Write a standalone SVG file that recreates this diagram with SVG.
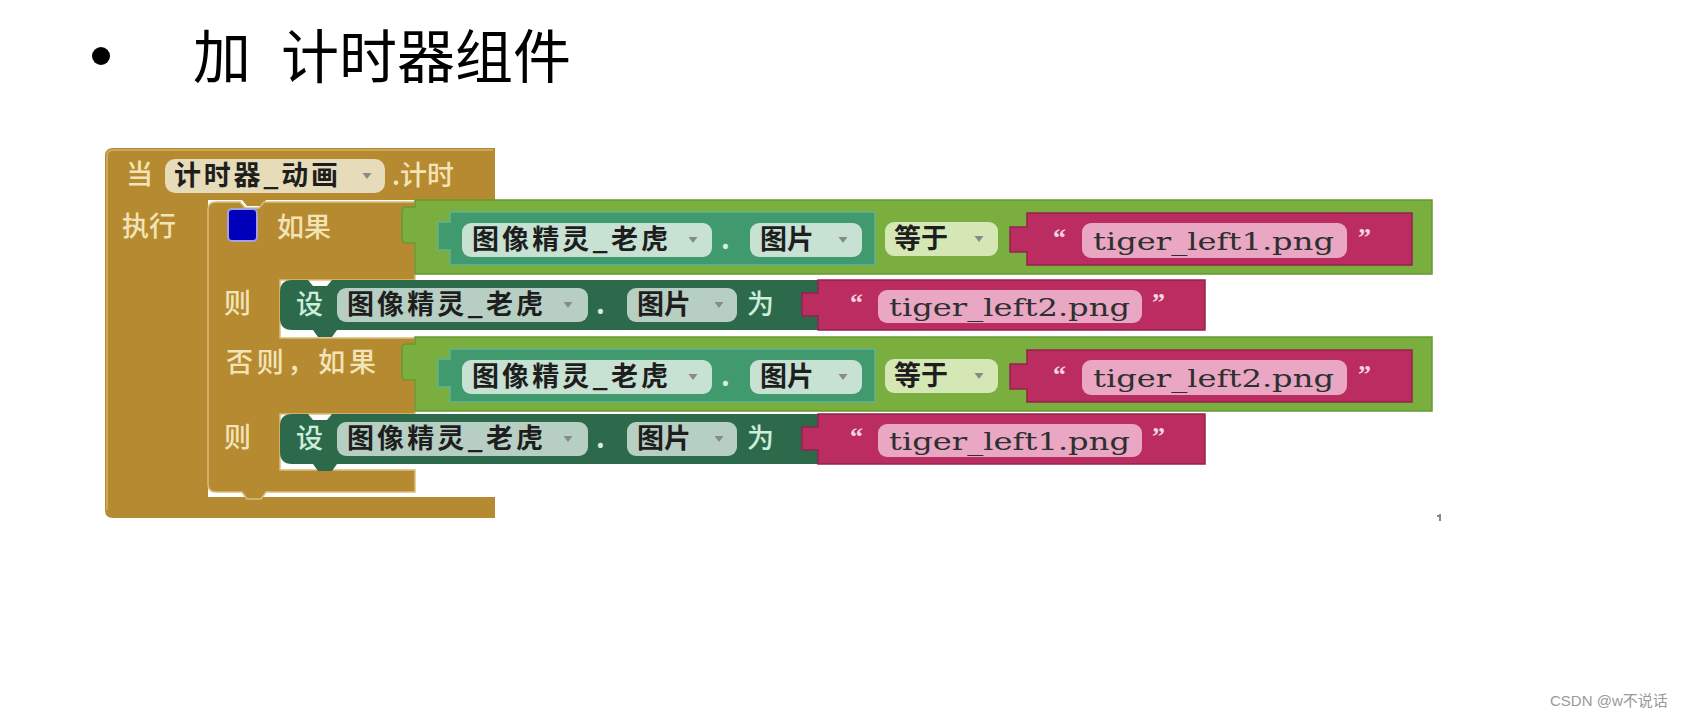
<svg xmlns="http://www.w3.org/2000/svg" width="1692" height="719" viewBox="0 0 1692 719">
<style>
text{font-family:"Noto Sans CJK SC","Noto Sans",sans-serif}
.gold{fill:#b68a30}
.cream{fill:#f3e4b8;font-size:27px;font-weight:500}
.dark{fill:#1e1e1e;font-size:27px;font-weight:700}
.lg{fill:#7aae3f;stroke:#679a32;stroke-width:1.5}
.teal{fill:#41996e;stroke:#62b58b;stroke-width:1.5}
.set{fill:#2c6a4b}
.pink{fill:#bb2c60;stroke:#93234c;stroke-width:1.5}
.pf{fill:#e9a7c4}
.q{fill:#f6d3e2;font-family:"Liberation Serif",serif;font-size:26px;font-weight:700}
.mono{font-family:"DejaVu Serif","Liberation Serif",serif;font-size:25px;fill:#2f2f2f}
.ddt{fill:#c7e1d3}
.dds{fill:#b7cec2}
.ddg{fill:#e7dcb9}
.ddl{fill:#d4e7b5}
.arr{fill:#8a8a8a}
.wl{fill:#cdeedb;font-size:27px;font-weight:500}
.dot{fill:#d6efe1;font-size:27px;font-weight:700}
</style>
<defs>
<path id="arr" d="M-4.5,-3 H4.5 L0,3 Z"/>
</defs>

<g id="title">
<circle cx="101" cy="56" r="9" fill="#000"/>
<text y="78" font-size="58" fill="#000"><tspan x="193">加</tspan><tspan x="281">计时器组件</tspan></text>
</g>

<g id="event-block">
<path class="gold" d="M113,148 H495 V200 H266 l-5,6 h-14 l-5,-6 H208 V497 H495 V518 H113 Q105,518 105,510 V156 Q105,148 113,148 Z"/>
<path d="M107,510 V156 Q107,150 113,150 H493" fill="none" stroke="#d4b468" stroke-width="1.5"/>
<text class="cream" x="126" y="184">当</text>
<rect class="ddg" x="165" y="159" width="220" height="34" rx="10"/>
<text class="dark" x="174" y="185" textLength="164" lengthAdjust="spacing">计时器_动画</text>
<use href="#arr" x="367" y="176" class="arr"/>
<text class="cream" x="392" y="185">.计时</text>
<text class="cream" x="122" y="236">执行</text>
</g>

<g id="if-block">
<path class="gold" d="M216,202 H240 l5,6 h14 l5,-6 H415 V280 H280 V338 H415 V414 H280 V470 H415 V492 H266 l-5,7 h-14 l-5,-7 H216 Q208,492 208,484 V210 Q208,202 216,202 Z" stroke="#d7be7c" stroke-width="1.5"/>
<rect x="228" y="209" width="29" height="32" rx="4" fill="#0000bb" stroke="#a3a3d6" stroke-width="2"/>
<text class="cream" x="277" y="237">如果</text>
<text class="cream" x="224" y="313">则</text>
<text class="cream" x="226" y="372" textLength="150" lengthAdjust="spacing">否则，如果</text>
<text class="cream" x="224" y="447">则</text>
</g>

<g id="compare-1">
<path class="lg" d="M415,200 H1432 V274 H415 V243 H406 Q402,243 402,239 V211 Q402,207 406,207 H415 Z"/>
<g id="getter-1">
<path class="teal" d="M450,212 H875 V265 H450 V250 H438 V222 H450 Z"/>
<rect class="ddt" x="462" y="223" width="250" height="34" rx="9"/>
<text class="dark" x="472" y="249" textLength="196" lengthAdjust="spacing">图像精灵_老虎</text>
<use href="#arr" x="693" y="240" class="arr"/>
<text class="dot" x="721" y="249">.</text>
<rect class="ddt" x="750" y="223" width="112" height="34" rx="9"/>
<text class="dark" x="760" y="249">图片</text>
<use href="#arr" x="843" y="240" class="arr"/>
</g>
<rect class="ddl" x="885" y="222" width="113" height="34" rx="9"/>
<text class="dark" x="894" y="248">等于</text>
<use href="#arr" x="979" y="239" class="arr"/>
<g id="text-1">
<path class="pink" d="M1027,213 H1412 V265 H1027 V252 H1010 V227 H1027 Z"/>
<text class="q" x="1053" y="246">“</text>
<rect class="pf" x="1082" y="223" width="265" height="35" rx="9"/>
<text class="mono" x="1093" y="250" textLength="241" lengthAdjust="spacingAndGlyphs">tiger_left1.png</text>
<text class="q" x="1358" y="246">”</text>
</g>
</g>

<g id="setter-1">
<path class="set" d="M292,280 H308 l5,6 h14 l5,-6 H818 V330 H337 l-5,7 h-14 l-5,-7 H292 Q280,330 280,318 V292 Q280,280 292,280 Z"/>
<text class="wl" x="296" y="314">设</text>
<rect class="dds" x="337" y="288" width="251" height="34" rx="9"/>
<text class="dark" x="347" y="314" textLength="196" lengthAdjust="spacing">图像精灵_老虎</text>
<use href="#arr" x="568" y="305" class="arr"/>
<text class="dot" x="596" y="314">.</text>
<rect class="dds" x="627" y="288" width="110" height="34" rx="9"/>
<text class="dark" x="637" y="314">图片</text>
<use href="#arr" x="719" y="305" class="arr"/>
<text class="wl" x="747" y="314">为</text>
<g id="text-2">
<path class="pink" d="M818,280 H1205 V330 H818 V316 H802 V293 H818 Z"/>
<text class="q" x="850" y="311">“</text>
<rect class="pf" x="878" y="290" width="264" height="33" rx="9"/>
<text class="mono" x="889" y="316" textLength="241" lengthAdjust="spacingAndGlyphs">tiger_left2.png</text>
<text class="q" x="1152" y="311">”</text>
</g>
</g>

<g id="compare-2">
<path class="lg" d="M415,337 H1432 V411 H415 V380 H406 Q402,380 402,376 V348 Q402,344 406,344 H415 Z"/>
<g id="getter-2">
<path class="teal" d="M450,349 H875 V402 H450 V387 H438 V359 H450 Z"/>
<rect class="ddt" x="462" y="360" width="250" height="34" rx="9"/>
<text class="dark" x="472" y="386" textLength="196" lengthAdjust="spacing">图像精灵_老虎</text>
<use href="#arr" x="693" y="377" class="arr"/>
<text class="dot" x="721" y="386">.</text>
<rect class="ddt" x="750" y="360" width="112" height="34" rx="9"/>
<text class="dark" x="760" y="386">图片</text>
<use href="#arr" x="843" y="377" class="arr"/>
</g>
<rect class="ddl" x="885" y="359" width="113" height="34" rx="9"/>
<text class="dark" x="894" y="385">等于</text>
<use href="#arr" x="979" y="376" class="arr"/>
<g id="text-3">
<path class="pink" d="M1027,350 H1412 V402 H1027 V389 H1010 V364 H1027 Z"/>
<text class="q" x="1053" y="383">“</text>
<rect class="pf" x="1082" y="360" width="265" height="35" rx="9"/>
<text class="mono" x="1093" y="387" textLength="241" lengthAdjust="spacingAndGlyphs">tiger_left2.png</text>
<text class="q" x="1358" y="383">”</text>
</g>
</g>

<g id="setter-2">
<path class="set" d="M292,414 H308 l5,6 h14 l5,-6 H818 V464 H337 l-5,7 h-14 l-5,-7 H292 Q280,464 280,452 V426 Q280,414 292,414 Z"/>
<text class="wl" x="296" y="448">设</text>
<rect class="dds" x="337" y="422" width="251" height="34" rx="9"/>
<text class="dark" x="347" y="448" textLength="196" lengthAdjust="spacing">图像精灵_老虎</text>
<use href="#arr" x="568" y="439" class="arr"/>
<text class="dot" x="596" y="448">.</text>
<rect class="dds" x="627" y="422" width="110" height="34" rx="9"/>
<text class="dark" x="637" y="448">图片</text>
<use href="#arr" x="719" y="439" class="arr"/>
<text class="wl" x="747" y="448">为</text>
<g id="text-4">
<path class="pink" d="M818,414 H1205 V464 H818 V450 H802 V427 H818 Z"/>
<text class="q" x="850" y="445">“</text>
<rect class="pf" x="878" y="424" width="264" height="33" rx="9"/>
<text class="mono" x="889" y="450" textLength="241" lengthAdjust="spacingAndGlyphs">tiger_left1.png</text>
<text class="q" x="1152" y="445">”</text>
</g>
</g>

<g id="connectors"/>

<path d="M1440,514 V521 M1437,516 H1440" stroke="#888" stroke-width="2" fill="none"/>
<text x="1550" y="706" font-size="15" fill="#9a9a9a" style="font-family:'Liberation Sans','Noto Sans CJK SC',sans-serif">CSDN @w不说话</text>
</svg>
